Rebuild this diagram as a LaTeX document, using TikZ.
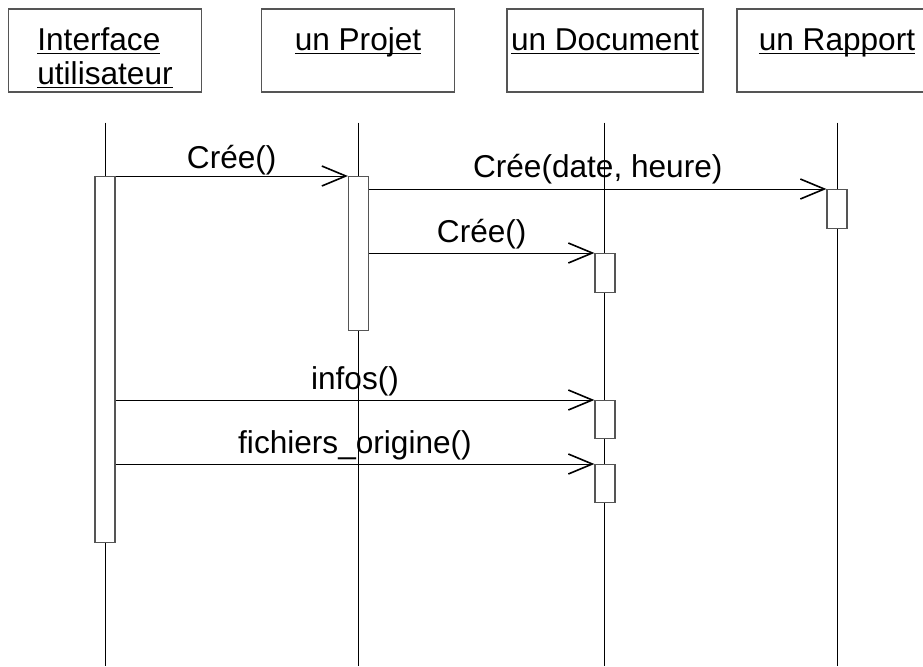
\documentclass[tikz,border=0pt]{standalone}
\usepackage{fontspec}
\setmainfont{Liberation Sans}
\usetikzlibrary{positioning, calc}
\usetikzlibrary{arrows.meta}
\definecolor{gris}{RGB}{85,85,85}
\newcommand{\souligne}[1]{\setbox0\hbox{#1}\rlap{\rule[-2.2pt]{\wd0}{0.75pt}}\box0}
\tikzstyle{objet} = [rectangle, draw=gris, line width=0.6pt, inner sep=0pt,
    minimum width=96.5pt, minimum height=41.5pt, text height=20.5pt, text depth=21pt]
\tikzstyle{activ} = [rectangle, draw=gris, line width=0.6pt, fill=white, inner sep=0pt,
    minimum width=10pt, anchor=north]
\tikzstyle{vie} = [draw, line width=0.5pt]
\tikzstyle{message} = [draw, line width=0.5pt,
    -{Straight Barb[length=12pt, width=10pt, line width=0.8pt]}]
\tikzstyle{nom} = [midway, anchor=base, yshift=5.5pt, inner sep=0pt]

\begin{document}
\begin{tikzpicture}[x=0.5pt, y=-0.5pt, font=\fontsize{15.8}{17}\selectfont]
   \useasboundingbox (0,0) rectangle (923,666);
   % Place nodes
    \node [objet] (ui) at (105,50.5) {\vtop{\baselineskip=17pt
        \hbox{\souligne{Interface}}\hbox{\souligne{utilisateur}}}};
    \node [objet, right of=ui, node distance=126.5pt] (projet) {\souligne{un Projet}};
    \node [objet, right of=projet, node distance=123.5pt, minimum width=98pt] (document) {\souligne{un Document}};
    \node [objet, right of=document, node distance=116pt, minimum width=100pt] (rapport) {\souligne{un Rapport}};
   % Lifelines
    \coordinate (bas) at (0,666);
    \foreach \obj/\dx in {ui/0, projet/0, document/-0.7, rapport/0} {
      \coordinate (\obj-haut) at ($(\obj.south)+(\dx,30)$);
      \path [vie] (\obj-haut) -- (\obj-haut |- bas);
    }
   % Activations
    \node [activ, minimum height=183pt] (act-ui) at (ui.south |- 0,176) {};
    \node [activ, minimum height=77pt] (act-projet) at ($(projet.south |- 0,176)+(0.5,0)$) {};
    \node [activ, minimum height=19.5pt] (act-rapport) at (rapport.south |- 0,189) {};
    \node [activ, minimum height=19.5pt] (act-doc1) at (document.south |- 0,253) {};
    \node [activ, minimum height=19pt] (act-doc2) at (document.south |- 0,400) {};
    \node [activ, minimum height=19pt] (act-doc3) at (document.south |- 0,464) {};
   % Draw edges
    \path [message] (act-ui.north east) -- (act-projet.north west)
    node [nom, yshift=-1.75pt] {Crée()};
    \path [message] (act-projet.east |- act-rapport.north) -- (act-rapport.north west)
    node [nom, yshift=0.5pt] {Crée(date, heure)};
    \path [message] (act-projet.east |- act-doc1.north) -- (act-doc1.north west)
    node [nom] {Crée()};
    \path [message] (act-ui.east |- act-doc2.north) -- (act-doc2.north west)
    node [nom] {infos()};
    \path [message] (act-ui.east |- act-doc3.north) -- (act-doc3.north west)
    node [nom] {fichiers\_origine()};
\end{tikzpicture}
\end{document}
